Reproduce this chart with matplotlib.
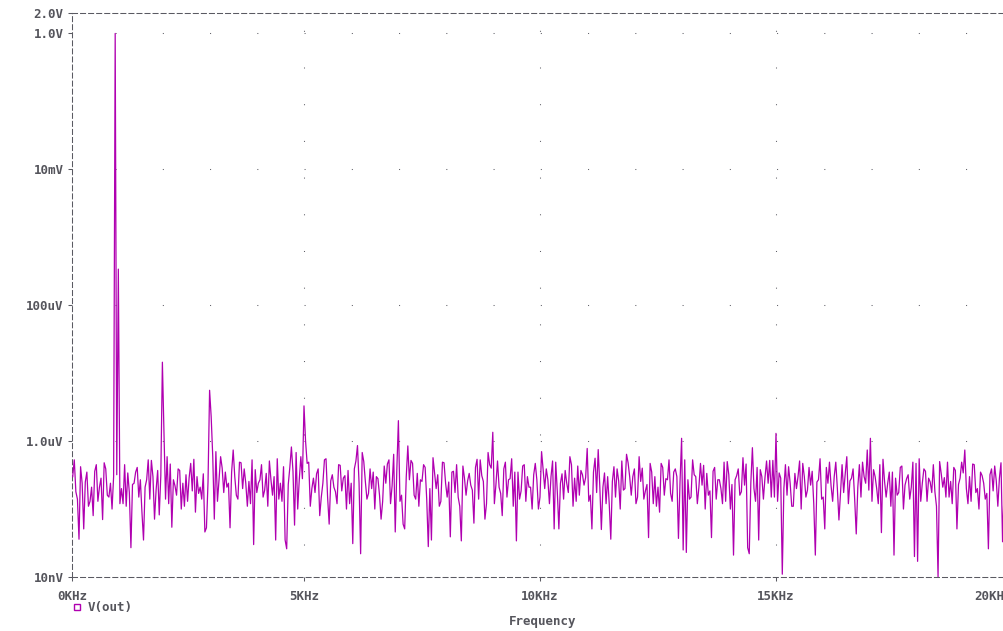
import numpy as np
import matplotlib
matplotlib.use("Agg")
import matplotlib.pyplot as plt
from matplotlib.lines import Line2D

# FFT of V(out), noise floor in nV. The trace has one point every 1/30 kHz from 0.1 kHz;
# noise_nv holds two of every three points, mid_nv the third one.
bin_khz = 1.0 / 30.0
first_bin = 3
noise_nv = [
    300, 530, 140, 36, 240, 51, 350, 110, 210, 80, 450, 130, 285, 70, 390, 160, 240, 100,
    300,
    320, 120, 200, 450, 110, 175, 27, 240, 350, 150, 270, 35, 210, 530, 140, 300, 71, 370, 82, 240,
    200, 590, 120, 54, 270, 160, 390, 100, 240, 320, 130, 470, 185, 90, 300, 210, 140, 46, 53, 530,
    450, 71, 700, 270, 590, 175, 350, 240, 53, 740, 300, 140, 490, 200, 390, 110, 255, 530, 30, 175,
    240, 450, 150, 335, 110, 270, 160, 35, 550, 240, 130, 35, 26, 410, 820, 58, 680, 270, 590,
    350, 140, 490, 110, 285, 175, 390, 80, 240, 530, 150, 60, 320, 210, 120, 450, 185, 285, 100, 370,
    240, 31, 510, 860, 22, 680, 255, 140, 390, 200, 100, 300, 160, 71, 430, 240, 530, 120, 640, 46,
    740, 130, 60, 51, 850, 270, 470, 160, 335, 110, 255, 450, 140, 28, 35, 570, 200, 320, 130, 490,
    240, 150, 39, 350, 175, 450, 110, 34, 285, 160, 335, 225, 62, 410, 140, 530, 255, 71, 680,
    450, 300, 120, 510, 210, 80, 390, 150, 270, 550, 110, 34, 350, 185, 430, 130, 300, 210, 100, 470,
    270, 150, 700, 200, 390, 120, 300, 51, 490, 51, 240, 140, 370, 175, 590, 110, 285, 430, 160, 320,
    225, 780, 130, 51, 350, 175, 750, 50, 210, 120, 300, 36, 255, 150, 390, 100, 510, 200, 640, 300,
    160, 390, 120, 590, 255, 140,
    185, 38, 470, 120, 300, 210, 90, 410, 160, 270, 530, 130, 350,
    300, 37, 500, 25, 23, 270, 150, 530, 300, 120, 470, 225, 100, 335, 185, 38, 410, 140, 270, 200,
    490, 130, 320, 100, 21, 270, 390, 160, 570, 225, 27, 22, 800, 200, 410, 35, 300, 140, 510, 240,
    150, 520, 370, 130, 285, 11, 450, 160, 240, 110, 335, 200, 510, 100, 300, 150, 410, 225, 120, 21,
    270, 550, 150,
    51, 240, 490, 130, 300, 200, 69, 450, 175, 590, 120, 285, 390, 43, 210, 150,
    490, 240, 740, 350, 130, 300, 200, 450, 45, 255, 150, 350, 110, 21, 285, 175, 410, 100, 225, 320,
    140, 490, 20, 17, 550, 240, 390, 130, 285, 175, 450, 110, 10, 335, 210, 150, 490, 255, 120, 370,
    51, 285, 490, 700, 200, 300, 130, 450, 175, 100, 350, 240, 140, 26, 320, 185, 430, 110, 285, 33, 210,
    270, 130, 390,
]
mid_nv = [
    180, 420, 250, 130, 360, 210, 480, 150, 300, 560, 120, 340, 230, 410, 90, 270, 520, 190, 310, 140,
    460, 220, 370, 110, 290, 540, 170, 330, 250, 600, 130, 400, 210, 350, 160, 480, 240, 120, 380, 270,
    190, 510, 300, 140, 420, 230, 360, 100, 280, 470, 200, 330, 150, 550, 260, 180, 440, 310, 120, 390,
    240, 500, 170, 350, 280, 130, 460, 220, 380, 160, 300, 520, 140, 270, 410, 200, 340, 110, 480, 250,
    360, 150, 430, 260, 190, 540, 310, 120, 400, 230, 170, 490, 280, 350, 140, 450, 210, 320, 100, 380,
    270, 510, 180, 330, 240, 450, 130, 370, 290, 160, 560, 220, 340, 120, 420, 260, 190, 480, 300, 150,
    400, 230, 350, 110, 470, 280, 170, 390, 250, 530, 140, 320, 210, 440, 160, 360, 270, 120, 500, 230,
    310, 180, 460, 240, 130, 380, 290, 520, 150, 340, 200, 420, 110, 300, 470, 190, 360, 250, 140, 410,
    220, 490, 170, 330, 260, 140, 450, 300, 190, 380, 120, 540, 240, 350, 160, 430, 280, 210, 470, 130,
    360, 250, 180, 500, 290, 150, 410, 230, 340, 120, 460, 200, 310, 170, 390, 260, 480, 140, 320, 240,
]

# harmonic lines (kHz, V)
harm_khz = [1, 2, 3, 5, 7, 9, 13, 15, 17, 19]
harm_v = [1.0, 14.5e-6, 5.6e-6, 3.3e-6, 2.0e-6, 1.35e-6, 1.1e-6, 1.3e-6, 1.1e-6, 0.74e-6]
# leakage into the next bin
leak_khz = [1.05, 2.05, 3.05, 5.05]
leak_v = [340e-6, 1.35e-6, 2.3e-6, 1.0e-6]

x_start, x_stop = 0.085, 20.0
x_ticks = [x_start, 5, 10, 15, 20]
x_labels = ["0KHz", "5KHz", "10KHz", "15KHz", "20KHz"]
y_ticks = [2.0, 1.0, 1e-2, 1e-4, 1e-6, 1e-8]
y_labels = ["2.0V", "1.0V", "10mV", "100uV", "1.0uV", "10nV"]
grid_y = [1.0, 1e-2, 1e-4, 1e-6]
grid_x = [5, 10, 15]

trace_col = "#B000B0"
text_col = "#55555C"
axis_col = "#5A5A62"

plt.rcParams["font.family"] = ["DejaVu Sans Mono"]
plt.rcParams["lines.scale_dashes"] = False
plt.rcParams["path.simplify"] = False

# merge the two noise lists back into bin order
noise_all = []
for i, v in enumerate(noise_nv):
    noise_all.append(v)
    if i % 2 == 1 and i // 2 < len(mid_nv):
        noise_all.append(mid_nv[i // 2])

freq = bin_khz * np.arange(first_bin, first_bin + len(noise_all))
spec = np.array(noise_all, dtype=float) * 1e-9
for f, v in zip(harm_khz + leak_khz, harm_v + leak_v):
    spec[np.argmin(np.abs(freq - f))] = v

fig = plt.figure(figsize=(10.04, 6.31), dpi=100)
ax = fig.add_axes([72 / 1004, 54 / 631, (1012 - 72) / 1004, 564 / 631])

ax.plot(freq, spec, color=trace_col, lw=0.9, zorder=3)

ax.set_yscale("log")
ax.set_xlim(x_start, x_stop)
ax.set_ylim(1e-8, 2.0)

# dotted grid
for gy in grid_y:
    ax.axhline(gy, color=axis_col, lw=0.75, ls=(3.0, (0.72, 33.3)), zorder=1)
for gx in grid_x:
    ax.axvline(gx, color=axis_col, lw=0.75, ls=(3.4, (0.72, 25.7)), zorder=1)

for side in ["left", "top", "bottom"]:
    ax.spines[side].set_linestyle((0, (3.6, 2.2)))
    ax.spines[side].set_color(axis_col)
    ax.spines[side].set_linewidth(0.75)
ax.spines["right"].set_visible(False)

ax.set_yticks(y_ticks)
ax.set_yticklabels(y_labels)
ax.yaxis.set_minor_locator(matplotlib.ticker.NullLocator())
ax.set_xticks(x_ticks)
ax.set_xticklabels(x_labels)
ax.tick_params(axis="both", direction="out", length=3, width=0.75, color=axis_col,
               labelcolor=text_col, labelsize=9)
ax.tick_params(axis="y", pad=3)
ax.tick_params(axis="x", pad=6)
for lab in ax.get_xticklabels() + ax.get_yticklabels():
    lab.set_fontweight("bold")
ax.get_xticklabels()[-1].set_horizontalalignment("right")

fig.text(543 / 1004, 1 - 622 / 631, "Frequency", ha="center", va="center",
         color=text_col, fontsize=9, fontweight="bold")
fig.add_artist(Line2D([77 / 1004], [1 - 607 / 631], transform=fig.transFigure,
                      marker="s", ms=4.5, mfc="none", mec=trace_col, mew=1, ls="none"))
fig.text(88 / 1004, 1 - 607 / 631, "V(out)", ha="left", va="center",
         color=text_col, fontsize=9, fontweight="bold")

fig.savefig("out.png", dpi=100)
